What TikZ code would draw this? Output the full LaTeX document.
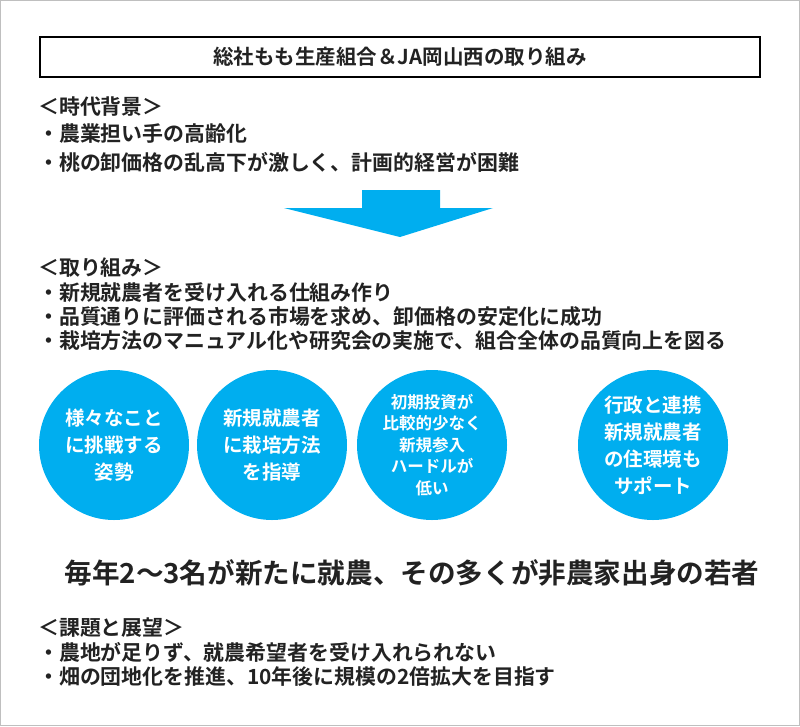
\documentclass[tikz,border=0pt]{standalone}
\usepackage{fontspec}
\setmainfont{Noto Sans CJK JP}[BoldFont={* Bold}]
\newfontfamily\jpb{Noto Sans CJK JP Bold}
\definecolor{cy}{HTML}{00AEEF}
\definecolor{tx}{HTML}{222222}
\begin{document}
\begin{tikzpicture}[x=1pt,y=-1pt,
  txt/.style={anchor=west,inner sep=0,text=tx,font=\jpb\fontsize{20.9}{22}\selectfont},
  circ/.style={circle,fill=cy,minimum size=150,inner sep=0,text=white,align=center,font=\jpb\fontsize{19.5}{27}\selectfont},
  hdr/.style={draw=black,line width=1.2pt,minimum width=720,minimum height=40,inner sep=0,font=\jpb\fontsize{20.5}{22}\selectfont,text=tx}]
\useasboundingbox (0,0) rectangle (800,726);
\draw[gray!50,line width=1pt] (0.5,0.5) rectangle (799.5,725.5);
\node[hdr] (title) at (400,57) {総社もも生産組合＆JA岡山西の取り組み};
\node[txt] (b0) at (38,107) {＜時代背景＞};
\node[txt] (b1) at (38,134) {・農業担い手の高齢化};
\node[txt] (b2) at (38,162) {・桃の卸価格の乱高下が激しく、計画的経営が困難};
\fill[cy] (362,190) -- (440,190) -- (440,208) -- (493,208) -- (400,237) -- (284,208) -- (362,208) -- cycle;
\node[txt] (c0) at (38,268) {＜取り組み＞};
\node[txt] (c1) at (38,293) {・新規就農者を受け入れる仕組み作り};
\node[txt] (c2) at (38,317) {・品質通りに評価される市場を求め、卸価格の安定化に成功};
\node[txt] (c3) at (38,341) {・栽培方法のマニュアル化や研究会の実施で、組合全体の品質向上を図る};
\node[circ] (k1) at (114,445) {様々なこと\\に挑戦する\\姿勢};
\node[circ] (k2) at (272,445) {新規就農者\\に栽培方法\\を指導};
\node[circ,font=\jpb\fontsize{16.5}{21.5}\selectfont] (k3) at (432,445) {初期投資が\\比較的少なく\\新規参入\\ハードルが\\低い};
\node[circ] (k4) at (653,445) {行政と連携\\新規就農者\\の住環境も\\サポート};
\node[txt,anchor=center,font=\jpb\fontsize{27.6}{30}\selectfont] (big) at (412,573) {毎年2～3名が新たに就農、その多くが非農家出身の若者};
\node[txt] (d0) at (38,628) {＜課題と展望＞};
\node[txt] (d1) at (38,652) {・農地が足りず、就農希望者を受け入れられない};
\node[txt] (d2) at (38,677) {・畑の団地化を推進、10年後に規模の2倍拡大を目指す};
\end{tikzpicture}
\end{document}
